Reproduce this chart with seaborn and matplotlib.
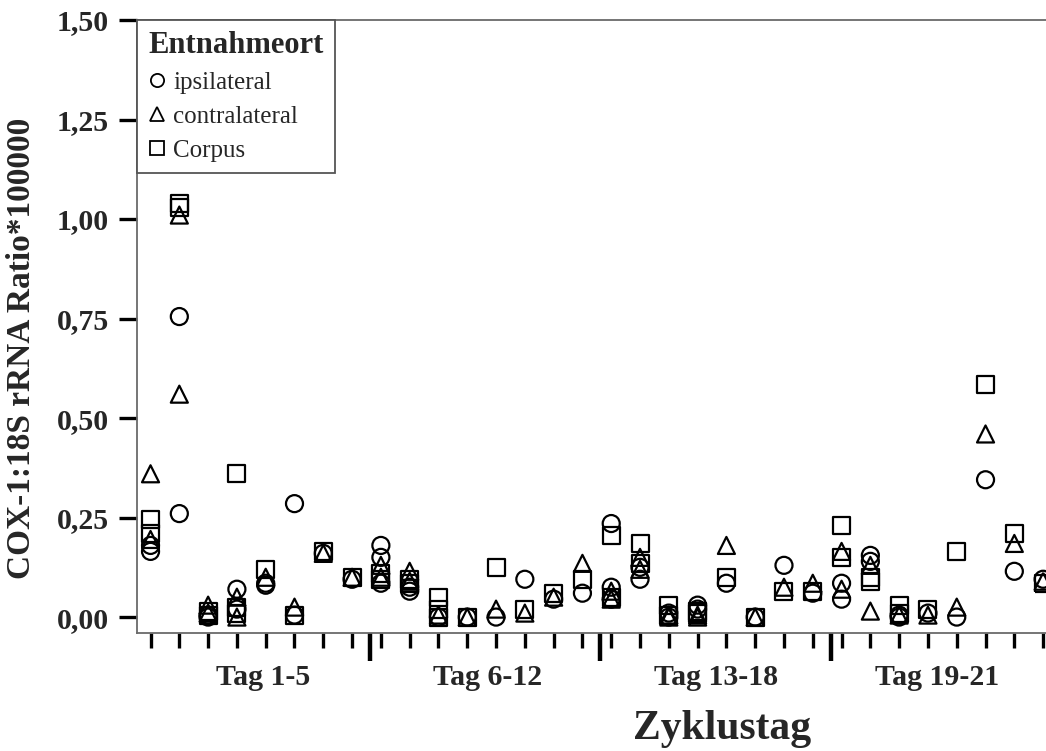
import numpy as np
import pandas as pd
import matplotlib
matplotlib.use("Agg")
import matplotlib.pyplot as plt
import matplotlib.transforms as mtransforms
from matplotlib.lines import Line2D
import seaborn as sns

# ---------------- data ----------------
sites = ["ipsilateral", "contralateral", "Corpus"]
group_labels = ["Tag 1-5", "Tag 6-12", "Tag 13-18", "Tag 19-21"]
cases_per_group = [8, 8, 8, 8]

ipsi_case = [0, 0, 1, 1, 2, 2, 3, 3, 4, 4, 5, 5, 6, 7, 8, 8, 8, 9, 9, 10, 11, 12, 13, 14, 15,
             16, 16, 16, 17, 17, 18, 18, 19, 19, 20, 21, 22, 23, 24, 24, 25, 25, 26, 26, 27, 28,
             29, 30, 31]
ipsi_val = [0.165, 0.18, 0.755, 0.26, 0.0, 0.005, 0.07, 0.02, 0.08, 0.085, 0.285, 0.005, 0.16,
            0.095, 0.18, 0.15, 0.085, 0.075, 0.065, 0.0, 0.0, 0.0, 0.095, 0.045, 0.06,
            0.235, 0.075, 0.045, 0.125, 0.095, 0.01, 0.0, 0.03, 0.02, 0.085, 0.0, 0.13, 0.06,
            0.085, 0.045, 0.155, 0.14, 0.005, 0.0, 0.01, 0.0, 0.345, 0.115, 0.095]

contra_case = [0, 0, 1, 1, 2, 2, 3, 3, 4, 5, 6, 7, 8, 8, 9, 9, 10, 11, 12, 13, 14, 15,
               16, 16, 17, 17, 18, 18, 19, 19, 20, 21, 22, 23, 24, 24, 25, 25, 26, 27, 28,
               29, 30, 31]
contra_val = [0.36, 0.195, 1.01, 0.56, 0.03, 0.01, 0.05, 0.0, 0.10, 0.025, 0.16, 0.10, 0.13,
              0.10, 0.115, 0.09, 0.005, 0.0, 0.02, 0.01, 0.05, 0.135,
              0.065, 0.045, 0.15, 0.12, 0.0, 0.005, 0.005, 0.0, 0.18, 0.0, 0.075, 0.085,
              0.165, 0.07, 0.13, 0.015, 0.005, 0.005, 0.025, 0.46, 0.185, 0.09]

corpus_case = [0, 0, 1, 1, 2, 2, 3, 3, 3, 4, 5, 6, 7, 8, 8, 9, 9, 10, 10, 10, 11, 12, 13, 14,
               15, 16, 16, 17, 17, 18, 18, 19, 19, 20, 21, 22, 23, 24, 24, 25, 25, 26, 26, 27,
               28, 29, 30, 31]
corpus_val = [0.245, 0.21, 1.04, 1.03, 0.015, 0.005, 0.36, 0.025, 0.01, 0.12, 0.005, 0.165,
              0.10, 0.11, 0.095, 0.095, 0.085, 0.05, 0.02, 0.0, 0.0, 0.125, 0.02, 0.06,
              0.095, 0.205, 0.05, 0.185, 0.135, 0.03, 0.005, 0.01, 0.015, 0.10, 0.0, 0.065,
              0.065, 0.23, 0.15, 0.10, 0.09, 0.03, 0.01, 0.02, 0.165, 0.585, 0.21, 0.085]

y_ticks = [0.0, 0.25, 0.5, 0.75, 1.0, 1.25, 1.5]
y_ticklabels = ["0,00", "0,25", "0,50", "0,75", "1,00", "1,25", "1,50"]

df = pd.concat([
    pd.DataFrame({"case": ipsi_case, "value": ipsi_val, "site": sites[0]}),
    pd.DataFrame({"case": contra_case, "value": contra_val, "site": sites[1]}),
    pd.DataFrame({"case": corpus_case, "value": corpus_val, "site": sites[2]}),
], ignore_index=True)

# ---------------- style ----------------
sns.set_style("white")
plt.rcParams["font.family"] = ["Liberation Serif", "DejaVu Serif"]

fig = plt.figure(figsize=(10.46, 7.51), dpi=100)
ax = fig.add_axes([137 / 1046, 1 - 633 / 751, 1 - 137 / 1046, (633 - 20) / 751])

marker_map = {"ipsilateral": "o", "contralateral": "^", "Corpus": "s"}
sns.scatterplot(data=df, x="case", y="value", style="site", markers=marker_map,
                style_order=sites, s=150, facecolor="none", edgecolor="black",
                linewidth=1.6, legend=False, ax=ax, zorder=3)

ax.set_xlim(-0.47, 31.1)
ax.set_ylim(-0.04, 1.5)

# y axis
ax.set_yticks(y_ticks)
ax.set_yticklabels(y_ticklabels, fontsize=21.5, fontweight="bold")
ax.tick_params(axis="y", which="major", length=13, width=2.4, color="black",
               direction="out", pad=7, left=True)

# x axis: minor ticks = cases, major ticks = group boundaries
n_cases = sum(cases_per_group)
bounds = np.cumsum(cases_per_group)[:-1] - 0.38
ax.set_xticks(bounds)
ax.set_xticklabels([])
ax.set_xticks(np.arange(n_cases), minor=True)
ax.tick_params(axis="x", which="major", length=20, width=3.2, color="black",
               direction="out", bottom=True)
ax.tick_params(axis="x", which="minor", length=11, width=2.4, color="black",
               direction="out", bottom=True)

label_pos = [3.9, 11.72, 19.65, 27.3]
trans = mtransforms.blended_transform_factory(ax.transData, ax.transAxes)
for xp, lab in zip(label_pos, group_labels):
    ax.text(xp, -0.073, lab, transform=trans, ha="center", va="center",
            fontsize=21.5, fontweight="bold")

ax.set_xlabel("")
ax.set_ylabel("")
ax.text((722 - 137) / 909, (633 - 739) / 613, "Zyklustag", transform=ax.transAxes,
        ha="center", va="baseline", fontsize=30, fontweight="bold")
ax.text((22 - 137) / 909, (633 - 348) / 613, "COX-1:18S rRNA Ratio*100000",
        transform=ax.transAxes, rotation=90, ha="center", va="center",
        fontsize=24, fontweight="bold")

for side in ["left", "bottom", "top"]:
    ax.spines[side].set_visible(True)
    ax.spines[side].set_color("#6a6a6a")
    ax.spines[side].set_linewidth(1.3)
ax.spines["right"].set_visible(False)

# legend
handles = [Line2D([], [], linestyle="none", marker=marker_map[s], markersize=9.5,
                  markerfacecolor="none", markeredgecolor="black", markeredgewidth=1.3,
                  label=s) for s in sites]
leg = ax.legend(handles=handles, title="Entnahmeort", loc="upper left",
                bbox_to_anchor=(0, 1), borderaxespad=0, frameon=True, fancybox=False,
                framealpha=1, edgecolor="#555555", fontsize=18, handlelength=0.7,
                handletextpad=0.3, labelspacing=0.45, borderpad=0.45,
                title_fontproperties={"size": 22, "weight": "bold"}, alignment="left")
leg.get_frame().set_linewidth(1.3)
leg.set_zorder(5)

fig.savefig("out.png", dpi=100)
